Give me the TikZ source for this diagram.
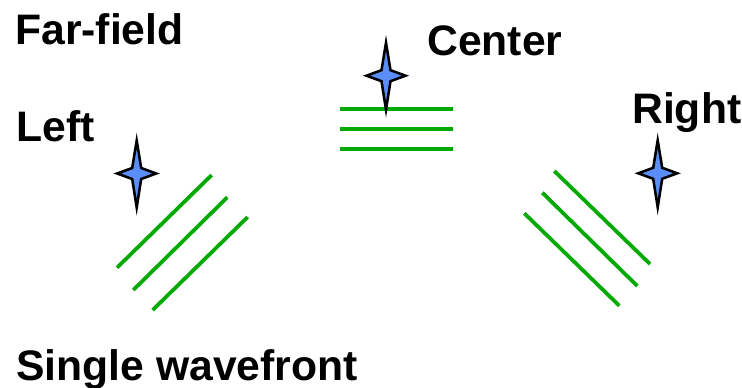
\documentclass[tikz,border=0pt]{standalone}
\usepackage{fontspec}
\setmainfont{Liberation Sans}
\definecolor{starblue}{RGB}{92,142,250}
\definecolor{wavegreen}{RGB}{0,170,0}
\tikzset{
  lbl/.style={anchor=base west, inner sep=0pt, font=\fontsize{32}{36}\selectfont\bfseries},
  wave/.style={draw=wavegreen, line width=2.8pt},
  starshape/.style={fill=starblue, draw=black, line width=1.9pt, miter limit=20},
}
\newcommand{\mystar}[2]{%
  \path[starshape] (#1,#2) ++(0,-33) -- ++(4.5,27.5) -- ++(15,5.5) -- ++(-15,5.5) -- ++(-4.5,28.5) -- ++(-4.5,-28.5) -- ++(-15,-5.5) -- ++(15,-5.5) -- cycle;}
\begin{document}
\begin{tikzpicture}[x=0.75pt,y=-0.75pt]
\useasboundingbox (0,0) rectangle (742,388);
% texts
\node[lbl] (far) at (15,45) {Far-field};
\node[lbl] (center) at (427,56) {Center};
\node[lbl] (left) at (16,142) {Left};
\node[lbl] (right) at (632,124) {Right};
\node[lbl] (single) at (16,380) {Single wavefront};
% left wavefronts
\draw[wave] (117,267.7) -- (211.7,175);
\draw[wave] (133.3,290) -- (227.3,197.3);
\draw[wave] (152.7,310) -- (247.7,217);
% center wavefronts
\draw[wave] (340,109) -- (453.3,109);
\draw[wave] (340,129) -- (453.3,129);
\draw[wave] (340,149) -- (453.3,149);
% right wavefronts
\draw[wave] (554.3,171) -- (650,264);
\draw[wave] (542.3,192.7) -- (637.3,286);
\draw[wave] (524.3,213.3) -- (619.3,305.7);
% stars
\mystar{136.7}{173.5}
\mystar{386}{75.7}
\mystar{657.7}{173.3}
\end{tikzpicture}
\end{document}
